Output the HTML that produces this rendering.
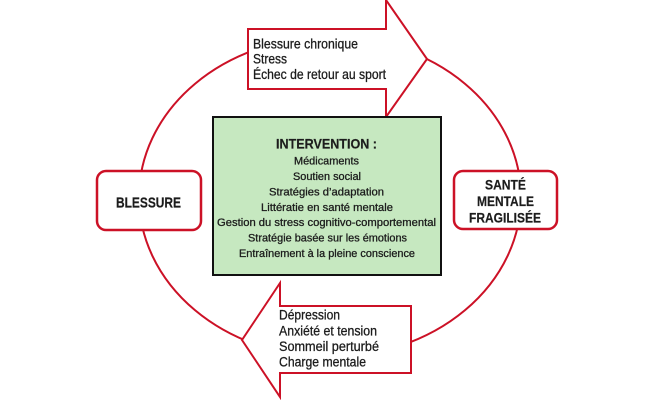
<!DOCTYPE html>
<html><head><meta charset="utf-8"><style>
html,body{margin:0;padding:0;background:#fff;}
svg{display:block;}
text{font-family:"Liberation Sans",Arial,sans-serif;fill:#1c1c1c;}
.r{stroke:#1c1c1c;stroke-width:0.3;}
.b{stroke:#1c1c1c;stroke-width:0.2;}
</style></head><body>
<svg width="655" height="400" viewBox="0 0 655 400" xmlns="http://www.w3.org/2000/svg">
<rect width="655" height="400" fill="#fff"/>
<ellipse cx="330" cy="197" rx="191" ry="160" fill="none" stroke="#cc1126" stroke-width="2"/>
<!-- top arrow -->
<path d="M248,29 L386,29 L386,0 L427,59 L386,117 L386,89 L248,89 Z" fill="#fff" stroke="#cc1126" stroke-width="2" stroke-linejoin="miter"/>
<!-- bottom arrow -->
<path d="M411,306 L280,306 L280,283 L242,340 L280,397 L280,373 L411,373 Z" fill="#fff" stroke="#cc1126" stroke-width="2"/>
<!-- green box -->
<rect x="213" y="117" width="228" height="158" fill="#c6e8c0" stroke="#111" stroke-width="2"/>
<!-- side boxes -->
<rect x="97" y="171" width="104" height="59" rx="9" fill="#fff" stroke="#cc1126" stroke-width="2.5"/>
<rect x="454" y="171" width="103" height="58" rx="9" fill="#fff" stroke="#cc1126" stroke-width="2.5"/>

<!-- top arrow text -->
<text class="r" x="253" y="48.3" font-size="14" textLength="105" lengthAdjust="spacingAndGlyphs">Blessure chronique</text>
<text class="r" x="253" y="63.3" font-size="14" textLength="34" lengthAdjust="spacingAndGlyphs">Stress</text>
<text class="r" x="253" y="78.8" font-size="14" textLength="133" lengthAdjust="spacingAndGlyphs">Échec de retour au sport</text>

<!-- bottom arrow text -->
<text class="r" x="279" y="319.5" font-size="13.5" textLength="61" lengthAdjust="spacingAndGlyphs">Dépression</text>
<text class="r" x="279" y="335.5" font-size="13.5" textLength="98" lengthAdjust="spacingAndGlyphs">Anxiété et tension</text>
<text class="r" x="279" y="351.2" font-size="13.5" textLength="100" lengthAdjust="spacingAndGlyphs">Sommeil perturbé</text>
<text class="r" x="279" y="366.7" font-size="13.5" textLength="87" lengthAdjust="spacingAndGlyphs">Charge mentale</text>

<!-- intervention -->
<text class="b" x="276" y="148.3" font-size="14" font-weight="bold" textLength="101" lengthAdjust="spacingAndGlyphs">INTERVENTION :</text>
<text class="r" x="294" y="164.6" font-size="11" textLength="65" lengthAdjust="spacingAndGlyphs">Médicaments</text>
<text class="r" x="293" y="180" font-size="11" textLength="68" lengthAdjust="spacingAndGlyphs">Soutien social</text>
<text class="r" x="269" y="195.5" font-size="11" textLength="115" lengthAdjust="spacingAndGlyphs">Stratégies d’adaptation</text>
<text class="r" x="261" y="211" font-size="11" textLength="132" lengthAdjust="spacingAndGlyphs">Littératie en santé mentale</text>
<text class="r" x="217" y="226" font-size="11" textLength="219" lengthAdjust="spacingAndGlyphs">Gestion du stress cognitivo-comportemental</text>
<text class="r" x="248" y="241.5" font-size="11" textLength="159" lengthAdjust="spacingAndGlyphs">Stratégie basée sur les émotions</text>
<text class="r" x="239" y="257" font-size="11" textLength="176" lengthAdjust="spacingAndGlyphs">Entraînement à la pleine conscience</text>

<!-- side labels -->
<text class="b" x="116" y="207.3" font-size="15" font-weight="bold" textLength="65" lengthAdjust="spacingAndGlyphs">BLESSURE</text>
<text class="b" x="485" y="189.5" font-size="13.5" font-weight="bold" textLength="41" lengthAdjust="spacingAndGlyphs">SANTÉ</text>
<text class="b" x="477" y="206" font-size="13.5" font-weight="bold" textLength="57" lengthAdjust="spacingAndGlyphs">MENTALE</text>
<text class="b" x="469" y="222.3" font-size="13.5" font-weight="bold" textLength="72" lengthAdjust="spacingAndGlyphs">FRAGILISÉE</text>
</svg>
</body></html>
